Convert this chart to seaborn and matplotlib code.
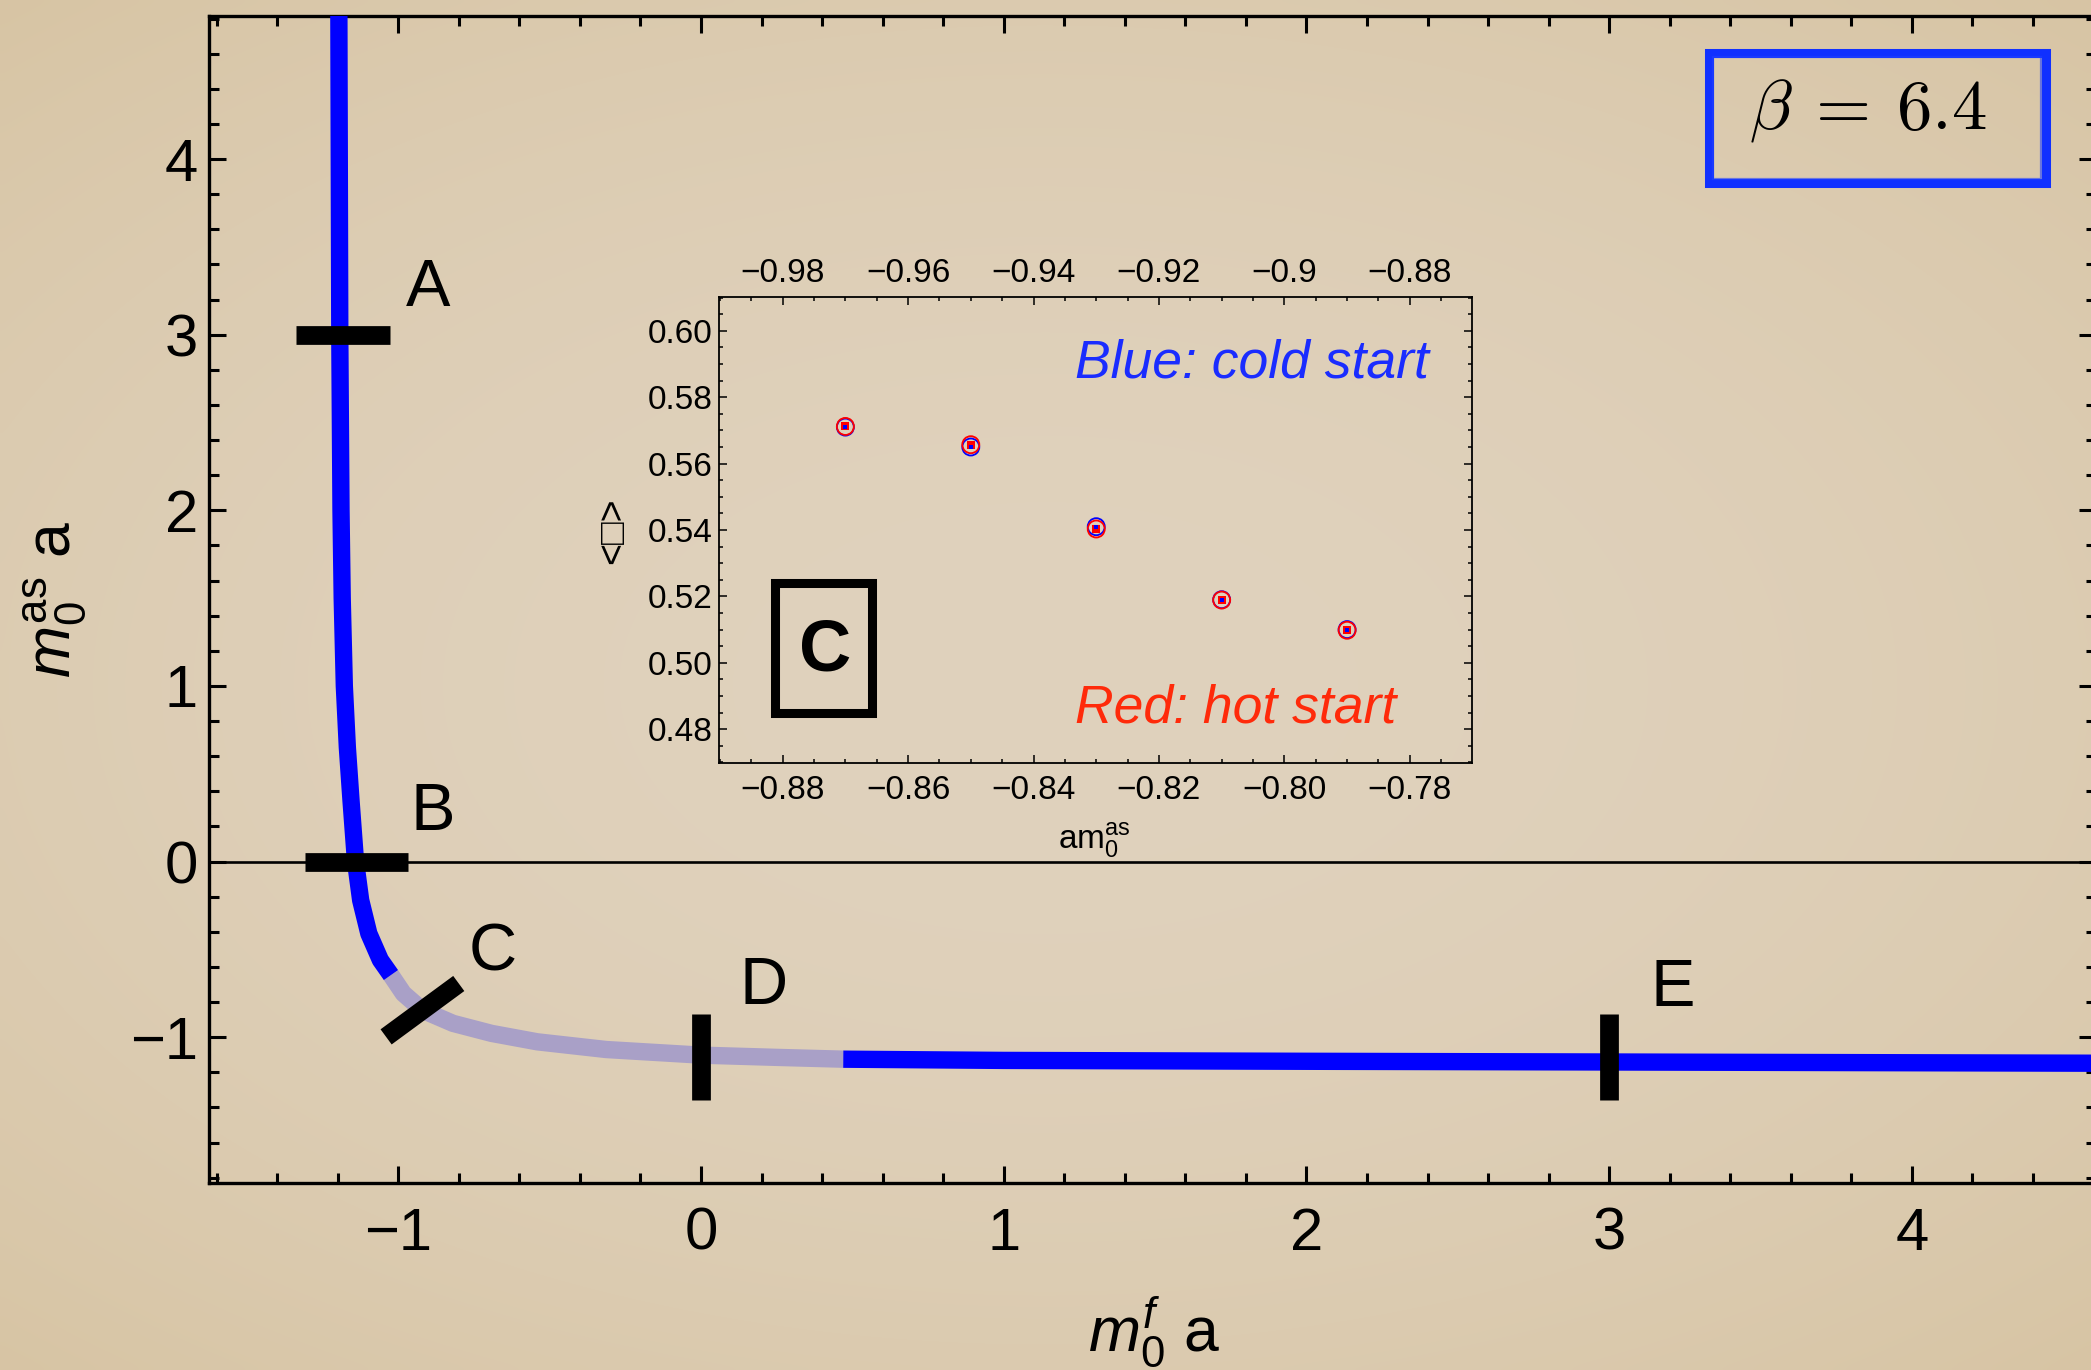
import numpy as np
import pandas as pd
import matplotlib
matplotlib.use("Agg")
import matplotlib.pyplot as plt
from matplotlib.patches import Rectangle
from matplotlib.ticker import MultipleLocator, FixedLocator, FixedFormatter
import seaborn as sns

# ---------------- data ----------------
# bare-mass phase curve (m0^f a , m0^as a), split into its three stretches
upper_x = [-1.196, -1.193, -1.189, -1.185, -1.178, -1.168, -1.156, -1.141, -1.124, -1.097, -1.059, -1.024]
upper_y = [4.82, 3.00, 2.00, 1.50, 1.00, 0.65, 0.35, 0.00, -0.22, -0.41, -0.56, -0.646]
faded_x = [-1.024, -0.983, -0.920, -0.819, -0.692, -0.541, -0.313, 0.000, 0.256, 0.470]
faded_y = [-0.646, -0.751, -0.846, -0.921, -0.978, -1.026, -1.070, -1.102, -1.115, -1.125]
lower_x = [0.470, 1.0, 2.0, 3.0, 4.61]
lower_y = [-1.125, -1.132, -1.137, -1.141, -1.148]

# marked points along the curve
mark_names = ["A", "B", "C", "D", "E"]
mark_x0 = [-1.338, -1.308, -1.040, 0.0, 3.0]
mark_y0 = [3.0, 0.0, -0.998, -0.868, -0.868]
mark_x1 = [-1.027, -0.968, -0.800, 0.0, 3.0]
mark_y1 = [3.0, 0.0, -0.694, -1.356, -1.356]
name_x = [-0.975, -0.961, -0.767, 0.128, 3.137]
name_y = [3.163, 0.182, -0.618, -0.812, -0.820]

# inset: plaquette at point C, cold vs hot start
inset_am = [-0.87, -0.85, -0.83, -0.81, -0.79]
cold_plaq = [0.5710, 0.5650, 0.5410, 0.5190, 0.5100]
cold_err = [0.0004, 0.0004, 0.0005, 0.0004, 0.0004]
hot_plaq = [0.5712, 0.5657, 0.5403, 0.5189, 0.5098]
hot_err = [0.0006, 0.0006, 0.0008, 0.0006, 0.0006]

main_xticks = [-1, 0, 1, 2, 3, 4]
main_xticklabels = ["\u22121", "0", "1", "2", "3", "4"]
main_yticks = [-1, 0, 1, 2, 3, 4]
main_yticklabels = ["\u22121", "0", "1", "2", "3", "4"]
inset_xticks = [-0.88, -0.86, -0.84, -0.82, -0.80, -0.78]
inset_xticklabels = ["\u22120.88", "\u22120.86", "\u22120.84", "\u22120.82", "\u22120.80", "\u22120.78"]
inset_top_labels = ["\u22120.98", "\u22120.96", "\u22120.94", "\u22120.92", "\u22120.9", "\u22120.88"]
inset_yticks = [0.48, 0.50, 0.52, 0.54, 0.56, 0.58, 0.60]
inset_yticklabels = ["0.48", "0.50", "0.52", "0.54", "0.56", "0.58", "0.60"]

# ---------------- style ----------------
sns.set_style("ticks")
plt.rcParams["font.family"] = ["Liberation Sans", "DejaVu Sans"]
plt.rcParams["mathtext.fontset"] = "custom"
plt.rcParams["mathtext.rm"] = "Liberation Sans"
plt.rcParams["mathtext.it"] = "Liberation Sans:italic"
plt.rcParams["mathtext.bf"] = "Liberation Sans:bold"
for key in ["text.color", "axes.labelcolor", "xtick.color", "ytick.color",
            "xtick.labelcolor", "ytick.labelcolor", "axes.edgecolor"]:
    plt.rcParams[key] = "black"

BLUE = "#0000ff"
FADED = "#a9a0c7"

W, H = 2091, 1370
fig = plt.figure(figsize=(W / 100, H / 100), dpi=100)

# paper background with a soft vignette
bg = fig.add_axes([0, 0, 1, 1], zorder=-10)
gy, gx = np.mgrid[-1:1:200j, -1:1:300j]
r = np.clip(np.sqrt((gx * 0.85) ** 2 + (gy * 0.95) ** 2) / 1.3, 0, 1)
c_in = np.array([224, 210, 189]) / 255
c_out = np.array([215, 196, 163]) / 255
wgt = r[..., None] ** 2
img = c_in[None, None, :] * (1 - wgt) + c_out[None, None, :] * wgt
bg.imshow(img, aspect="auto", extent=[0, 1, 0, 1], interpolation="bicubic")
bg.set_axis_off()

# ---------------- main axes ----------------
ax = fig.add_axes([209 / W, (H - 1183) / H, (2096 - 209) / W, (1183 - 15.6) / H])
ax.set_facecolor("none")

ax.axhline(0, color="black", lw=1.9, zorder=1)

seg_style = dict(sort=False, estimator=None, legend=False, ax=ax,
                 solid_capstyle="butt", solid_joinstyle="round")
sns.lineplot(data=pd.DataFrame({"x": faded_x, "y": faded_y}), x="x", y="y",
             color=FADED, lw=12.5, zorder=2, **seg_style)
sns.lineplot(data=pd.DataFrame({"x": upper_x, "y": upper_y}), x="x", y="y",
             color=BLUE, lw=12.5, zorder=3, **seg_style)
sns.lineplot(data=pd.DataFrame({"x": lower_x, "y": lower_y}), x="x", y="y",
             color=BLUE, lw=12.5, zorder=3, **seg_style)

for nm, x0, y0, x1, y1, tx, ty in zip(mark_names, mark_x0, mark_y0, mark_x1, mark_y1, name_x, name_y):
    ax.plot([x0, x1], [y0, y1], color="black", lw=13.5, solid_capstyle="butt", zorder=5)
    ax.text(tx, ty, nm, fontsize=48, ha="left", va="baseline", zorder=6)

ax.set_xlim(-1.625, 4.608)
ax.set_ylim(-1.83, 4.817)
ax.xaxis.set_major_locator(FixedLocator(main_xticks))
ax.xaxis.set_major_formatter(FixedFormatter(main_xticklabels))
ax.yaxis.set_major_locator(FixedLocator(main_yticks))
ax.yaxis.set_major_formatter(FixedFormatter(main_yticklabels))
ax.xaxis.set_minor_locator(MultipleLocator(0.2))
ax.yaxis.set_minor_locator(MultipleLocator(0.2))
ax.tick_params(which="both", direction="in", top=True, right=True, width=2.2, color="black")
ax.tick_params(which="major", length=12)
ax.tick_params(which="minor", length=7)
ax.tick_params(axis="x", which="major", labelsize=43, pad=17)
ax.tick_params(axis="y", which="major", labelsize=43, pad=8)
for s in ax.spines.values():
    s.set_linewidth(2.4)
    s.set_color("black")

ax.set_xlabel(r"$m_0^{f}$ a", fontsize=45)
ax.xaxis.set_label_coords(0.501, -0.096)
ax.set_ylabel(r"$m_0^{\mathrm{as}}$ a", fontsize=45)
ax.yaxis.set_label_coords(-0.0636, 0.5)

# ---------------- beta box ----------------
fig.patches.append(Rectangle((1709 / W, 1 - 182.5 / H), (2046 - 1709) / W, (182.5 - 52.5) / H,
                             transform=fig.transFigure, fill=False, edgecolor="#1030ff",
                             lw=6.5, zorder=20))
fig.patches.append(Rectangle((1713 / W, 1 - 179 / H), (2041 - 1713) / W, (179 - 57) / H,
                             transform=fig.transFigure, fill=False, edgecolor="#2040ff",
                             lw=1.6, alpha=0.6, zorder=20))
fig.text(1868 / W, 1 - 110 / H, r"$\beta\:=\:6.4$", fontsize=51, math_fontfamily="cm",
         ha="center", va="center", zorder=21)

# ---------------- inset ----------------
ax_in = fig.add_axes([719.3 / W, (H - 762.7) / H, (1471.9 - 719.3) / W, (762.7 - 297.3) / H])
ax_in.set_facecolor("none")

ax_in.errorbar(inset_am, hot_plaq, yerr=hot_err, fmt="none", ecolor="red",
               elinewidth=1.5, capsize=3, capthick=1.5, zorder=3)
sns.scatterplot(x=inset_am, y=cold_plaq, ax=ax_in, marker="o", s=150,
                facecolor="none", edgecolor=BLUE, linewidth=1.3, zorder=4)
sns.scatterplot(x=inset_am, y=hot_plaq, ax=ax_in, marker="o", s=150,
                facecolor="none", edgecolor="red", linewidth=1.3, zorder=4)
sns.scatterplot(x=inset_am, y=hot_plaq, ax=ax_in, marker="s", s=34,
                color="red", linewidth=0, zorder=5)
sns.scatterplot(x=inset_am, y=cold_plaq, ax=ax_in, marker="s", s=5,
                color=BLUE, linewidth=0, zorder=6)

ax_in.set_xlim(-0.8901, -0.7701)
ax_in.set_ylim(0.4699, 0.6101)
ax_in.xaxis.set_major_locator(FixedLocator(inset_xticks))
ax_in.xaxis.set_major_formatter(FixedFormatter(inset_xticklabels))
ax_in.yaxis.set_major_locator(FixedLocator(inset_yticks))
ax_in.yaxis.set_major_formatter(FixedFormatter(inset_yticklabels))
ax_in.xaxis.set_minor_locator(MultipleLocator(0.005))
ax_in.yaxis.set_minor_locator(MultipleLocator(0.005))
ax_in.tick_params(which="both", direction="in", top=True, right=True, width=1.1, color="black")
ax_in.tick_params(which="major", length=5.5)
ax_in.tick_params(which="minor", length=3)
ax_in.tick_params(axis="x", which="major", labelsize=24, pad=9)
ax_in.tick_params(axis="y", which="major", labelsize=24, pad=5)
for s in ax_in.spines.values():
    s.set_linewidth(1.3)
    s.set_color("black")

# top axis carries the shifted scale
ax_top = ax_in.secondary_xaxis("top")
ax_top.xaxis.set_major_locator(FixedLocator(inset_xticks))
ax_top.xaxis.set_major_formatter(FixedFormatter(inset_top_labels))
ax_top.tick_params(which="both", length=0, labelsize=24, pad=6)
ax_top.spines["top"].set_visible(False)

ax_in.set_xlabel(r"am$_0^{\mathrm{as}}$", fontsize=24)
ax_in.xaxis.set_label_coords(0.498, -0.125)
ax_in.text(-0.141, 0.498, "<\u25a1>", transform=ax_in.transAxes, rotation=90,
           fontsize=27, ha="center", va="center")

ax_in.text(-0.8334, 0.586, "Blue: cold start", color="#1a2cff", fontstyle="italic",
           fontsize=38.5, ha="left", va="baseline")
ax_in.text(-0.8334, 0.4819, "Red: hot start", color="#ff2a0a", fontstyle="italic",
           fontsize=38.5, ha="left", va="baseline")

# marker box for point C
for dx, dy, lw in [(0, 0, 6.5), (0.004, -0.006, 2.0), (-0.004, 0.006, 2.0)]:
    ax_in.add_patch(Rectangle((0.074 + dx, 0.107 + dy), 0.1295, 0.279, transform=ax_in.transAxes,
                              fill=False, edgecolor="black", lw=lw, zorder=7))
ax_in.text(0.140, 0.240, "C", transform=ax_in.transAxes, fontsize=52, fontweight="bold",
           ha="center", va="center", zorder=8)

fig.savefig("out.png", dpi=100)
